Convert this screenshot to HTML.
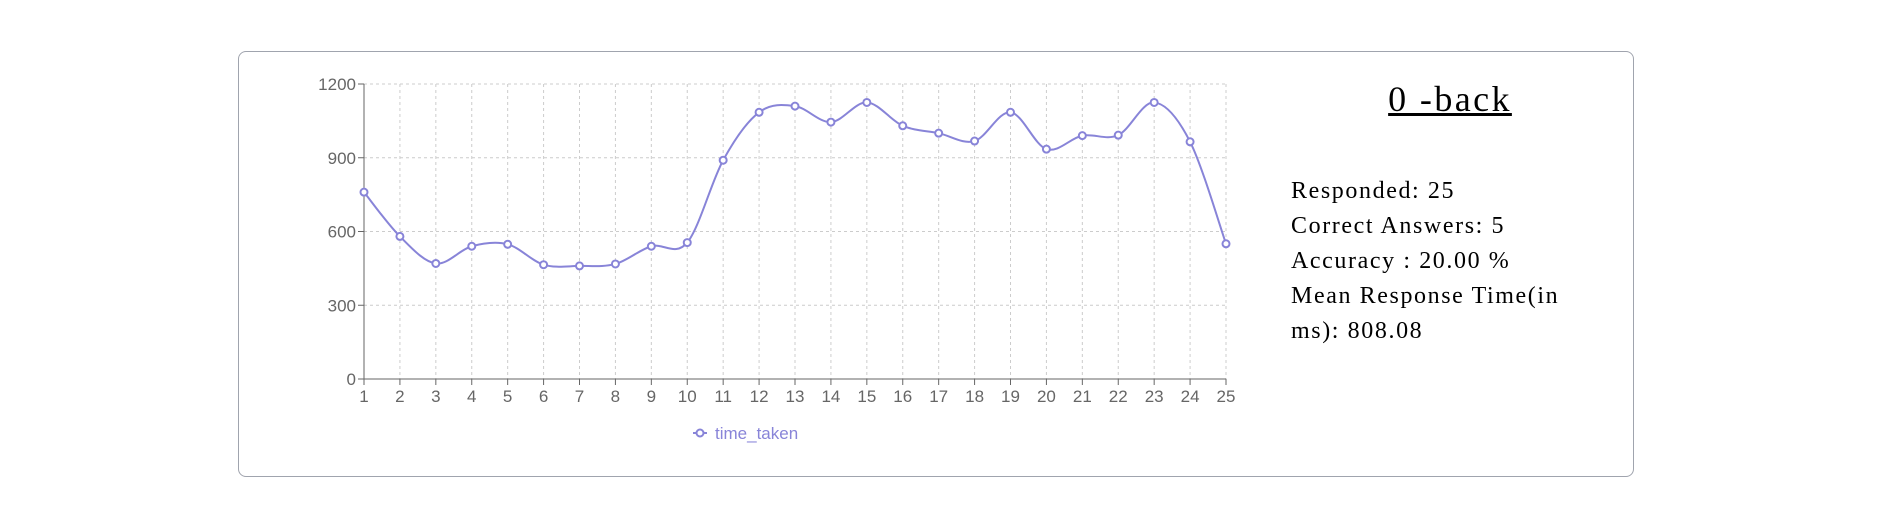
<!DOCTYPE html>
<html><head><meta charset="utf-8"><style>
body{margin:0;background:#fff;width:1897px;height:522px;overflow:hidden;position:relative;font-family:"Liberation Serif",serif}
#card{position:absolute;left:238px;top:51px;width:1396px;height:426px;border:1.5px solid #a0a4ae;border-radius:8px;box-sizing:border-box}
#title{position:absolute;left:1300px;width:300px;top:78px;text-align:center;font-size:36px;letter-spacing:2.4px;text-decoration:underline;color:#000}
#stats{position:absolute;left:1291px;top:174px;font-size:24px;letter-spacing:1.6px;line-height:35px;color:#000;white-space:nowrap}
svg{position:absolute;left:0;top:0}
</style></head><body>
<div id="card"></div>
<svg id="chart" width="1897" height="522"></svg>
<div id="title">0 -back</div>
<div id="stats">Responded: 25<br>Correct Answers: 5<br>Accuracy : 20.00 %<br>Mean Response Time(in<br>ms): 808.08</div>
<script>
const categories=[1,2,3,4,5,6,7,8,9,10,11,12,13,14,15,16,17,18,19,20,21,22,23,24,25];
const values=[760,580,470,540,548,465,460,468,540,555,890,1085,1110,1045,1125,1030,1000,968,1085,935,990,992,1125,965,550];
const yTicks=[0,300,600,900,1200];
const NS="http://www.w3.org/2000/svg";
const svg=document.getElementById('chart');
const X0=364,X1=1226,Y0=379,Y1=84,YMAX=1200;
const xs=i=>X0+(X1-X0)*i/(categories.length-1);
const ys=v=>Y0-(Y0-Y1)*v/YMAX;
function mk(t,a,p){const e=document.createElementNS(NS,t);for(const k in a)e.setAttribute(k,a[k]);(p||svg).appendChild(e);return e;}
const grid=mk('g',{});


yTicks.forEach(v=>{if(v>0)mk('line',{x1:X0,x2:X1,y1:ys(v),y2:ys(v),stroke:'#ccc','stroke-dasharray':'3 3'},grid);
 const t=mk('text',{x:X0-8,y:ys(v)+6,'text-anchor':'end','font-size':17,fill:'#666','font-family':'Liberation Sans, sans-serif'});t.textContent=v;
 
 
 mk('line',{x1:X0-6,x2:X0,y1:ys(v),y2:ys(v),stroke:'#666'});});
categories.forEach((c,i)=>{if(i>0)mk('line',{x1:xs(i),x2:xs(i),y1:Y1,y2:Y0,stroke:'#ccc','stroke-dasharray':'3 3'},grid);
 mk('line',{x1:xs(i),x2:xs(i),y1:Y0,y2:Y0+6,stroke:'#666'});
 const t=mk('text',{x:xs(i),y:Y0+23,'text-anchor':'middle','font-size':17,fill:'#666','font-family':'Liberation Sans, sans-serif'});t.textContent=c;
 
 });
mk('line',{x1:X0,x2:X0,y1:Y1,y2:Y0,stroke:'#666'});
mk('line',{x1:X0,x2:X1,y1:Y0,y2:Y0,stroke:'#666'});
const pts=values.map((v,i)=>[xs(i),ys(v)]);
let d='M'+pts[0][0]+','+pts[0][1];
for(let i=0;i<pts.length-1;i++){const p0=pts[Math.max(0,i-1)],p1=pts[i],p2=pts[i+1],p3=pts[Math.min(pts.length-1,i+2)];
 const c1=[p1[0]+(p2[0]-p0[0])/6,p1[1]+(p2[1]-p0[1])/6],c2=[p2[0]-(p3[0]-p1[0])/6,p2[1]-(p3[1]-p1[1])/6];
 d+=` C${c1[0]},${c1[1]} ${c2[0]},${c2[1]} ${p2[0]},${p2[1]}`;}
const line=mk('path',{d:d,fill:'none',stroke:'#8884d8','stroke-width':2});


pts.forEach(p=>{const c=mk('circle',{cx:p[0],cy:p[1],r:3.5,fill:'#fff',stroke:'#8884d8','stroke-width':2});
 
 });
const lg=mk('g',{});


mk('line',{x1:693,x2:707,y1:433,y2:433,stroke:'#8884d8','stroke-width':2},lg);
mk('circle',{cx:700,cy:433,r:3.5,fill:'#fff',stroke:'#8884d8','stroke-width':2},lg);
const lt=mk('text',{x:715,y:439,'font-size':17,fill:'#8884d8','font-family':'Liberation Sans, sans-serif'},lg);lt.textContent='time_taken';
</script>
</body></html>
